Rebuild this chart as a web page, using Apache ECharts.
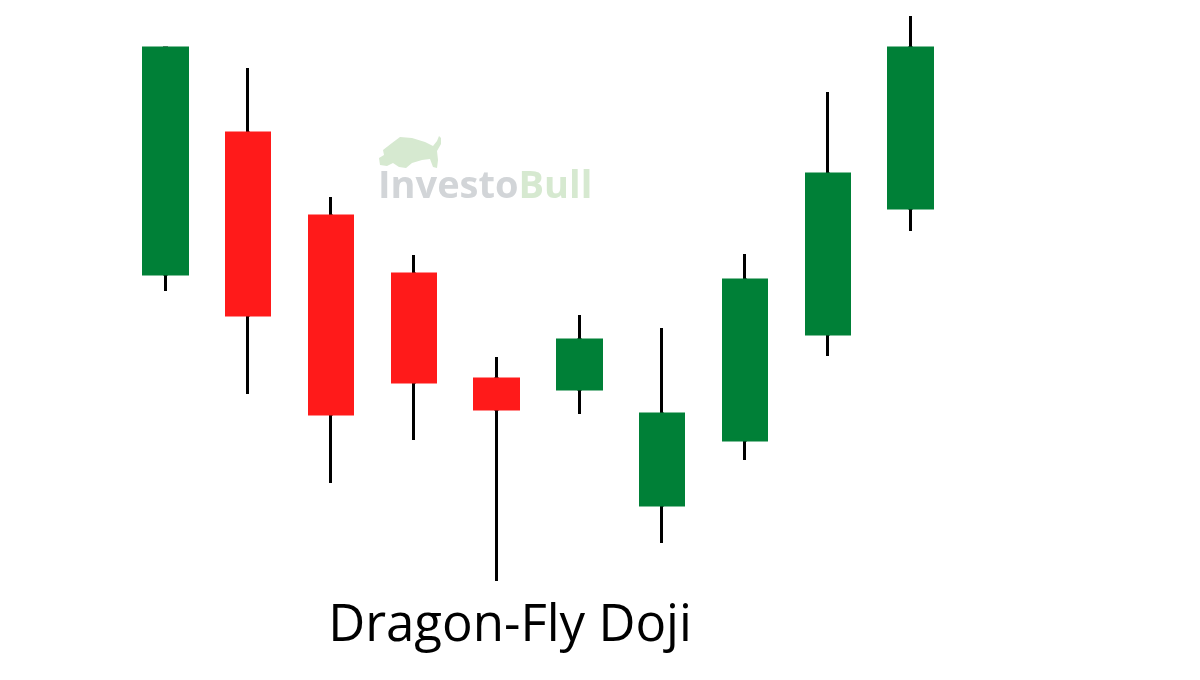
<!DOCTYPE html>
<html>
<head>
<meta charset="utf-8">
<script src="https://cdn.jsdelivr.net/npm/echarts@6/dist/echarts.min.js"></script>
<style>html,body{margin:0;padding:0;background:#fff;}#chart{width:1200px;height:680px;}</style>
</head>
<body>
<div id="chart"></div>
<script>
// Candles: [open, close, low, high]
var categories = ['1','2','3','4','5','6','7','8','9','10'];
var opens  = [32.6, 46.7, 38.4, 32.6, 22.1, 21.1,  9.5, 16.0, 26.6, 39.2];
var closes = [55.2, 28.5, 18.6, 21.8, 19.1, 26.0, 18.6, 32.0, 42.6, 55.2];
var lows   = [30.9, 20.6, 11.7, 16.0,  1.9, 18.6,  5.7, 14.0, 24.4, 36.9];
var highs  = [55.2, 53.2, 40.3, 34.5, 24.3, 28.5, 27.2, 34.6, 50.8, 58.4];
var titleText = 'Dragon-Fly Doji';

var wickData = categories.map(function(c, i){ return [opens[i], closes[i], lows[i], highs[i]]; });
var bodyData = categories.map(function(c, i){
  return [opens[i], closes[i], Math.min(opens[i], closes[i]), Math.max(opens[i], closes[i])];
});

var GREEN = '#008037', RED = '#ff1a1a';
var chart = echarts.init(document.getElementById('chart'));
chart.setOption({
  backgroundColor: '#ffffff',
  animation: false,
  grid: {left: 124, width: 828, top: 0, height: 600},
  xAxis: {type: 'category', data: categories, boundaryGap: true, show: false},
  yAxis: {type: 'value', min: 0, max: 60, show: false},
  graphic: [
    {type: 'polygon', z: 1, shape: {points: [
      [383,150],[392,143],[400,137],[412,138],[425,142],[433,146],[437,141],[439,136],[441,138],[441,144],
      [437,151],[438,160],[437,168],[433,167],[430,159],[422,160],[412,163],[406,168],[399,167],
      [393,163],[387,166],[380,165],[379,158],[384,155]
    ]}, style: {fill: '#d6e9d0'}},
    {type: 'text', z: 1, left: 378, top: 168, style: {
      text: '{a|Investo}{b|Bull}',
      rich: {
        a: {fill: '#d2d5d8', fontFamily: 'Open Sans', fontWeight: 'bold', fontSize: 38},
        b: {fill: '#d6e9d0', fontFamily: 'Open Sans', fontWeight: 'bold', fontSize: 38}
      }
    }},
    {type: 'text', z: 10, x: 510, y: 626, style: {
      text: titleText, fill: '#000', fontFamily: 'Open Sans', fontSize: 51,
      align: 'center', verticalAlign: 'middle'
    }}
  ],
  series: [
    {
      type: 'candlestick', name: 'wick', data: wickData, barWidth: 2, z: 2,
      itemStyle: {color: '#000', color0: '#000', borderColor: '#000', borderColor0: '#000', borderWidth: 3}
    },
    {
      type: 'candlestick', name: 'body', data: bodyData, barWidth: 44, z: 3,
      itemStyle: {color: GREEN, color0: RED, borderColor: GREEN, borderColor0: RED, borderWidth: 3}
    }
  ]
});
</script>
</body>
</html>
